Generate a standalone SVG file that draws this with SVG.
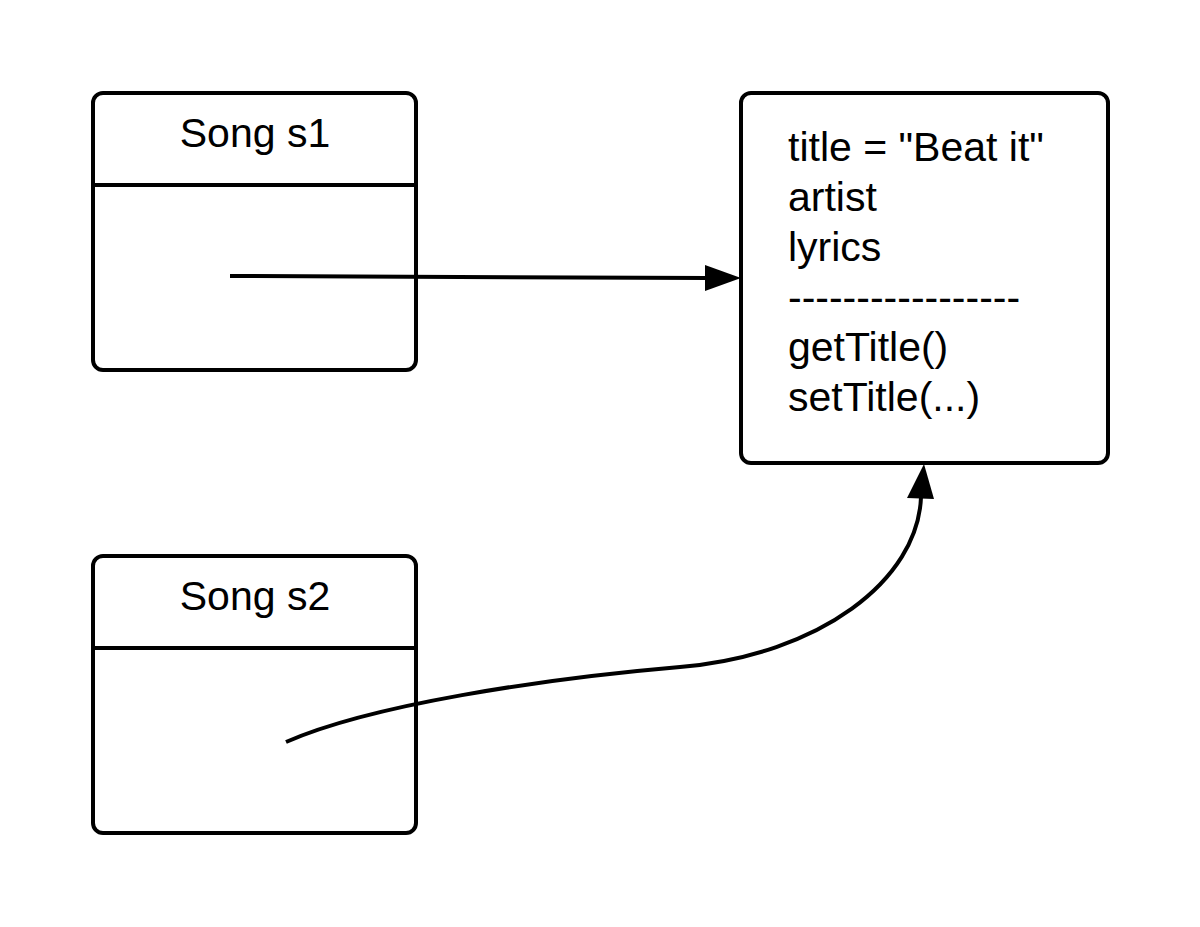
<svg xmlns="http://www.w3.org/2000/svg" width="1200" height="927" viewBox="0 0 1200 927">
  <style>
    .box { fill: #ffffff; stroke: #000000; stroke-width: 4; }
    .rule { stroke: #000000; stroke-width: 4; }
    .label { font-family: "Liberation Sans", Arial, sans-serif; font-size: 41px; fill: #000000; }
    .mid { text-anchor: middle; }
    .link { fill: none; stroke: #000000; stroke-width: 4; }
    .head { fill: #000000; }
  </style>
  <rect width="1200" height="927" fill="#ffffff"/>

  <g id="song-s1">
    <rect class="box" x="93" y="93" width="323" height="277" rx="10"/>
    <line class="rule" x1="93" y1="185" x2="416" y2="185"/>
    <text class="label mid" x="255" y="147">Song s1</text>
  </g>

  <g id="song-s2">
    <rect class="box" x="93" y="556" width="323" height="277" rx="10"/>
    <line class="rule" x1="93" y1="648" x2="416" y2="648"/>
    <text class="label mid" x="255" y="610">Song s2</text>
  </g>

  <g id="song-object">
    <rect class="box" x="741" y="93" width="367" height="370" rx="10"/>
    <text class="label" x="788" y="161">title = "Beat it"</text>
    <text class="label" x="788" y="211">artist</text>
    <text class="label" x="788" y="261">lyrics</text>
    <text class="label" x="788" y="311">-----------------</text>
    <text class="label" x="788" y="361">getTitle()</text>
    <text class="label" x="788" y="411">setTitle(...)</text>
  </g>

  <g id="connectors">
    <path class="link" d="M230,276 L708,278"/>
    <path class="head" d="M705,265 L741,278 L705,291 Z"/>
    <path class="link" d="M286,742 C370,705 540,679 680,667 C820,655 918,580 921,497"/>
    <path class="head" d="M907,498 L924,464 L934,499 Z"/>
  </g>
</svg>
